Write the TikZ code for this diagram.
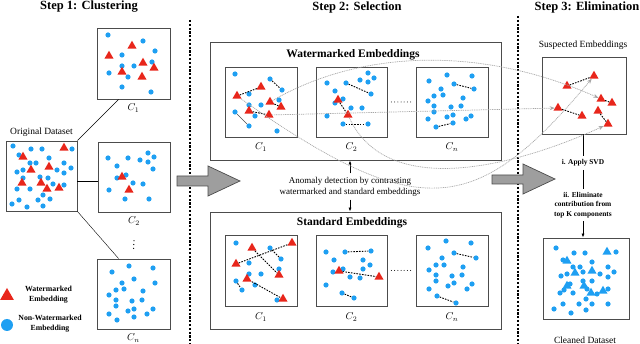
\documentclass[tikz,border=0pt]{standalone}
\usepackage{fontspec}
\setmainfont{Liberation Serif}
\usepackage{tikz}
\usetikzlibrary{arrows.meta,positioning,shapes.geometric,fit}
\definecolor{EmbBlue}{HTML}{1E9FF2}
\definecolor{WmRed}{HTML}{E8261B}
\definecolor{PanelLine}{gray}{0.3}
\definecolor{ArrowFill}{gray}{0.62}
\tikzset{
  emb/.style={
    circle,
    fill=EmbBlue,
    inner sep=0pt,
    minimum size=5.2pt
  },
  wm/.style={
    regular polygon,
    regular polygon sides=3,
    fill=WmRed,
    inner sep=0pt,
    minimum size=10.5pt
  },
  panel/.style={
    draw=PanelLine,
    line width=0.8pt,
    inner sep=0pt
  },
  link/.style={
    line width=0.9pt,
    dash pattern=on 1.6pt off 1.2pt
  },
  trace/.style={
    draw=black!35,
    line width=0.7pt,
    dash pattern=on 1pt off 0.8pt,
    -{Stealth[length=5pt,width=4pt]}
  },
  divider/.style={
    line width=1.4pt,
    dash pattern=on 2.2pt off 1.6pt
  },
  dotrow/.style={
    line width=1.3pt,
    line cap=round,
    dash pattern=on 0pt off 3.8pt
  },
  blockarrow/.style={
    fill=ArrowFill,
    draw=PanelLine,
    line width=0.7pt
  },
  flowarrow/.style={
    -{Latex[length=4pt,width=3pt]},
    line width=0.7pt
  },
  steptitle/.style={font=\fontsize{12.5}{14}\selectfont\bfseries},
  boxtitle/.style={font=\fontsize{11.5}{13}\selectfont\bfseries},
  caption/.style={font=\fontsize{9.5}{11}\selectfont},
  note/.style={font=\fontsize{9}{11}\selectfont, align=center},
  stepnote/.style={font=\fontsize{7.4}{9.5}\selectfont\bfseries, align=center},
  legendtext/.style={font=\fontsize{7.8}{10}\selectfont\bfseries, align=center},
  clabel/.style={font=\fontsize{10}{12}\selectfont}
}
\begin{document}
\begin{tikzpicture}[x=1pt, y=-1pt]
\useasboundingbox (0,0) rectangle (640,344);

\node[steptitle] (step1) at (89,7) {Step 1: Clustering};
\node[steptitle] (step2) at (357,7) {Step 2: Selection};
\node[steptitle] (step3) at (587,7) {Step 3: Elimination};

\draw[divider] (190,20) -- (190,344);
\draw[divider] (518,16) -- (518,344);

\node[panel, fit={(6,141) (77,211)}] (orig) {};
\node[caption, above=1pt of orig] (origlabel) {Original Dataset};
\node[panel, fit={(97,28) (170,99)}] (ca) {};
\node[clabel, below=1pt of ca] (calabel) {$C_1$};
\node[panel, fit={(98,142) (170,212)}] (cb) {};
\node[clabel, below=1pt of cb] (cblabel) {$C_2$};
\node[panel, fit={(97,259) (170,329)}] (cn) {};
\node[clabel, below=1pt of cn] (cnlabel) {$C_n$};

\foreach \x/\y [count=\i] in {13/146, 31/149, 42/149, 72/149, 19/155, 49/158, 30/163, 36/163, 64/163, 71/168, 23/170, 57/170, 64/173, 17/172, 23/178, 40/177, 48/178, 53/184, 64/185, 17/189, 30/189, 43/195, 50/199, 19/200, 38/200, 12/204, 27/207, 43/206}
  \node[emb] (orig-b\i) at (\x,\y) {};
\foreach \x/\y [count=\i] in {64/148, 23/157, 49/167, 31/170, 22/183, 41/183, 47/189, 59/188}
  \node[wm] (orig-r\i) at (\x,\y) {};

\foreach \x/\y [count=\i] in {108/35, 143/41, 155/51, 122/55, 122/66, 134/66, 152/62, 109/73, 128/77, 122/87, 151/92}
  \node[emb] (ca-b\i) at (\x,\y) {};
\foreach \x/\y [count=\i] in {132/46, 109/56, 143/63, 154/68, 122/72, 142/77}
  \node[wm] (ca-r\i) at (\x,\y) {};

\foreach \x/\y [count=\i] in {108/158, 128/158, 140/160, 148/153, 154/157, 148/162, 117/166, 153/169, 117/178, 126/175, 133/183, 143/184, 109/190, 125/199, 149/199}
  \node[emb] (cb-b\i) at (\x,\y) {};
\foreach \x/\y [count=\i] in {122/177, 129/190}
  \node[wm] (cb-r\i) at (\x,\y) {};

\foreach \x/\y [count=\i] in {112/272, 129/266, 153/268, 134/279, 122/283, 155/283, 116/290, 124/289, 143/291, 109/295, 116/300, 132/301, 142/300, 116/306, 128/311, 134/309, 153/309, 109/314, 134/317, 147/314, 117/320}
  \node[emb] (cn-b\i) at (\x,\y) {};

\draw (orig.north east) -- ([xshift=22pt]ca.south west);
\draw ([yshift=-5pt]orig.east) -- ([yshift=-5pt]orig.east -| cb.west);
\draw (orig.south east) -- ([xshift=22pt]cn.north west);
\draw[dotrow] ([yshift=-12pt]cblabel.south) -- ([yshift=8pt]cn.north);

\node[wm, minimum size=16pt] (legwm) at (7,296) {};
\node[legendtext] (legwmtext) at (48.5,295) {Watermarked\\Embedding};
\node[emb, minimum size=12pt] (legemb) at (7,325) {};
\node[legendtext] (legembtext) at (50,324) {Non-Watermarked\\Embedding};

\draw[blockarrow] (177,176) -- (208,176) -- (208,166) -- (240,181) -- (208,196) -- (208,186) -- (177,186) -- cycle;

\node[panel, fit={(210,42) (501,160)}] (wmbox) {};
\node[boxtitle] (wmtitle) at (353,55) {Watermarked Embeddings};
\node[panel, fit={(225,67) (297,137)}] (wa) {};
\node[clabel, below=2pt of wa] (walabel) {$C_1$};
\node[panel, fit={(316,67) (387,137)}] (wb) {};
\node[clabel, below=2pt of wb] (wblabel) {$C_2$};
\node[panel, fit={(416,67) (488,137)}] (wn) {};
\node[clabel, below=2pt of wn] (wnlabel) {$C_n$};
\draw[dotrow, line width=1pt, dash pattern=on 0pt off 3.2pt] ([xshift=4pt]wb.east) -- ([xshift=-3pt]wn.west);

\foreach \x/\y [count=\i] in {235/74, 270/79, 282/90, 249/94, 279/100, 261/105, 235/112, 255/116, 249/126, 277/131, 249/105}
  \node[emb] (wa-b\i) at (\x,\y) {};
\foreach \x/\y [count=\i] in {261/87, 237/96, 270/102, 281/107, 249/111, 269/115}
  \node[wm] (wa-r\i) at (\x,\y) {};
\draw[link] (wa-r2) -- (wa-r1);
\draw[link] (wa-b2) -- (wa-b3);
\draw[link] (wa-r3) -- (wa-r4);
\draw[link] (wa-r5) -- (wa-r6);
\draw[line width=0.5pt, draw=black!70] (wa-b7) -- (wa-b9);

\foreach \x/\y [count=\i] in {368/73, 360/80, 368/82, 374/78, 327/83, 346/83, 335/91, 371/94, 343/99, 335/103, 351/108, 362/108, 327/116, 343/124, 368/124}
  \node[emb] (wb-b\i) at (\x,\y) {};
\foreach \x/\y [count=\i] in {338/100, 348/115}
  \node[wm] (wb-r\i) at (\x,\y) {};
\draw[link] (wb-b6) -- (wb-b8);
\draw[link] (wb-r1) -- (wb-r2);
\draw[link] (wb-b14) -- (wb-b15);

\foreach \x/\y [count=\i] in {429/81, 447/75, 472/76, 441/89, 454/84, 474/89, 434/96, 443/95, 428/101, 463/98, 434/106, 451/107, 461/106, 434/112, 447/117, 453/115, 428/119, 453/123, 466/119, 471/116, 436/127}
  \node[emb] (wn-b\i) at (\x,\y) {};
\draw[link] (wn-b5) -- (wn-b6);
\draw[link] (wn-b21) -- (wn-b18);

\node[note] (anomaly) at (350,186.5) {Anomaly detection by contrasting\\watermarked and standard embeddings};
\draw[flowarrow] (anomaly.north) -- (anomaly.north |- wmbox.south);

\node[panel, fit={(210,212) (501,329)}] (stdbox) {};
\node[boxtitle] (stdtitle) at (352,223) {Standard Embeddings};
\draw[flowarrow] (anomaly.south) -- (anomaly.south |- stdbox.north);
\node[panel, fit={(225,235) (297,306)}] (sa) {};
\node[clabel, below=3pt of sa] (salabel) {$C_1$};
\node[panel, fit={(316,235) (387,306)}] (sb) {};
\node[clabel, below=3pt of sb] (sblabel) {$C_2$};
\node[panel, fit={(416,235) (488,306)}] (sn) {};
\node[clabel, below=3pt of sn] (snlabel) {$C_n$};
\draw[dotrow, line width=1pt, dash pattern=on 0pt off 3.2pt] ([xshift=4pt]sb.east) -- ([xshift=-3pt]sn.west);

\foreach \x/\y [count=\i] in {236/243, 270/248, 249/263, 281/259, 279/269, 249/274, 261/274, 236/281, 242/290, 255/285, 277/300}
  \node[emb] (sa-b\i) at (\x,\y) {};
\foreach \x/\y [count=\i] in {252/248, 292/243, 236/264, 279/275, 247/279, 283/299}
  \node[wm] (sa-r\i) at (\x,\y) {};
\draw[link] (sa-r3) -- (sa-r2);
\draw[link] (sa-r1) -- (sa-r4);
\draw[link] (sa-b2) -- (sa-b4);
\draw[link] (sa-r5) -- (sa-r6);
\draw[link] (sa-b8) -- (sa-b9);

\foreach \x/\y [count=\i] in {326/252, 345/252, 371/251, 334/260, 363/260, 370/265, 343/269, 363/269, 333/272, 350/277, 360/278, 326/285, 342/293, 354/298}
  \node[emb] (sb-b\i) at (\x,\y) {};
\foreach \x/\y [count=\i] in {339/271, 379/277}
  \node[wm] (sb-r\i) at (\x,\y) {};
\draw[link] (sb-b2) -- (sb-b3);
\draw[link] (sb-r1) -- (sb-r2);
\draw[link] (sb-b13) -- (sb-b14);

\foreach \x/\y [count=\i] in {428/248, 446/241, 471/243, 454/253, 476/258, 442/258, 436/265, 444/265, 463/267, 429/270, 436/275, 452/276, 462/275, 436/281, 454/283, 472/284, 448/286, 429/289, 467/289, 437/296, 456/303}
  \node[emb] (sn-b\i) at (\x,\y) {};
\draw[link] (sn-b4) -- (sn-b5);
\draw[link] (sn-b20) -- (sn-b21);

\draw[blockarrow] (492,175) -- (523,175) -- (523,164) -- (555,179) -- (523,194) -- (523,184) -- (492,184) -- cycle;

\node[caption] (suslabel) at (583,45) {Suspected Embeddings};
\node[panel, fit={(542,57) (626,134)}] (susbox) {};
\foreach \x/\y [count=\i] in {567/86, 594/76, 601/99, 612/103, 558/108, 582/116, 598/111, 608/124}
  \node[wm] (su-r\i) at (\x,\y) {};
\draw[link] (su-r1) -- (su-r2);
\draw[link] (su-r3) -- (su-r4);
\draw[link] (su-r5) -- (su-r6);
\draw[link] (su-r7) -- (su-r8);

\node[stepnote] (svd) at (583,163) {i. Apply SVD};
\node[stepnote] (elim) at (583,205) {ii. Eliminate\\contribution from\\top K components};
\node[panel, fit={(543,238) (629,319)}] (clean) {};
\node[caption] (cleanlabel) at (585,340) {Cleaned Dataset};
\draw[line width=0.7pt] (svd.north |- susbox.south) -- (svd.north);
\draw[line width=0.7pt] (svd.south) -- (svd.south |- elim.north);
\draw[flowarrow] (elim.south) -- (elim.south |- clean.north);

\foreach \x/\y [count=\i] in {556/248, 574/253, 585/253, 616/252, 563/260, 592/262, 573/267, 580/267, 608/267, 561/276, 567/274, 583/272, 600/274, 614/272, 608/277, 592/281, 583/281, 570/284, 564/290, 587/289, 608/289, 560/293, 573/293, 597/294, 586/299, 554/309, 563/304, 579/304, 592/304, 608/304, 571/313, 586/310}
  \node[emb] (cl-b\i) at (\x,\y) {};
\foreach \x/\y [count=\i] in {567/261, 607/252, 575/273, 592/271, 567/286, 584/286, 591/293, 603/291}
  \node[wm, fill=EmbBlue] (cl-r\i) at (\x,\y) {};

\draw[trace] (wa-r3) .. controls (360,50) and (480,45) .. (su-r3);
\draw[trace] (wa-r6) -- (su-r5);
\draw[trace] (wa-r2) .. controls (420,225) and (477,216) .. (su-r2);
\draw[trace] (wb-r2) .. controls (390,205) and (530,160) .. (su-r8);
\end{tikzpicture}
\end{document}
